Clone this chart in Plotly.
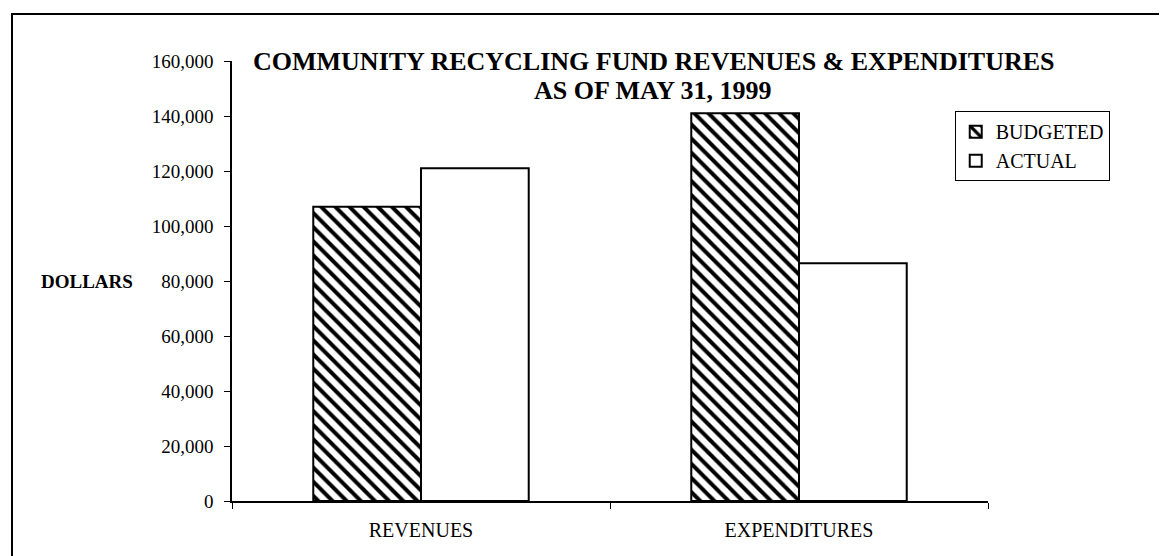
import plotly.graph_objects as go

categories = ["REVENUES", "EXPENDITURES"]
budgeted = [107000, 141000]
actual = [121000, 86500]
y_tick_values = [0, 20000, 40000, 60000, 80000, 100000, 120000, 140000, 160000]
y_tick_labels = ["0", "20,000", "40,000", "60,000", "80,000", "100,000", "120,000", "140,000", "160,000"]
series_names = ["BUDGETED", "ACTUAL"]
title_lines = ["COMMUNITY RECYCLING FUND REVENUES &amp; EXPENDITURES", "AS OF MAY 31, 1999"]
y_label = "DOLLARS"

FONT = "Liberation Serif"

fig = go.Figure()
fig.add_trace(go.Bar(
    x=categories, y=budgeted, name=series_names[0],
    marker=dict(color="white", line=dict(color="black", width=2),
                pattern=dict(shape="\\", fgcolor="black", bgcolor="white",
                             size=10, solidity=0.4, fgopacity=1)),
))
fig.add_trace(go.Bar(
    x=categories, y=actual, name=series_names[1],
    marker=dict(color="white", line=dict(color="black", width=2)),
))

fig.update_layout(
    width=1167, height=556,
    margin=dict(l=224, r=187, t=53, b=63),
    paper_bgcolor="white", plot_bgcolor="white",
    barmode="group", bargap=0.43, bargroupgap=0,
    font=dict(family=FONT, size=19, color="black"),
    showlegend=True,
    legend=dict(x=0.956, y=0.886, xanchor="left", yanchor="top",
                bordercolor="black", borderwidth=1, bgcolor="white",
                font=dict(family=FONT, size=20), itemwidth=30, tracegroupgap=0),
    xaxis=dict(showline=True, linecolor="black", linewidth=1.5, ticks="outside",
               tickson="boundaries", ticklen=6, tickcolor="black", showgrid=False,
               ticklabelstandoff=10, tickfont=dict(family=FONT, size=20)),
    yaxis=dict(range=[0, 160000], showline=True, linecolor="black", linewidth=1.5,
               ticks="outside", ticklen=6, tickcolor="black", showgrid=False,
               zeroline=False, tickvals=y_tick_values, ticktext=y_tick_labels,
               ticklabelstandoff=7, tickfont=dict(family=FONT, size=19)),
)

# Title (two centred lines)
fig.add_annotation(text="<b>" + title_lines[0] + "</b>", xref="paper", yref="paper",
                   x=0.557, y=1.0, xanchor="center", yanchor="middle",
                   showarrow=False, font=dict(family=FONT, size=26))
fig.add_annotation(text="<b>" + title_lines[1] + "</b>", xref="paper", yref="paper",
                   x=0.557, y=0.933, xanchor="center", yanchor="middle",
                   showarrow=False, font=dict(family=FONT, size=26))

# Y-axis label (horizontal)
fig.add_annotation(text="<b>" + y_label + "</b>", xref="paper", yref="paper",
                   x=-0.128, y=0.5, xanchor="right", yanchor="middle",
                   showarrow=False, font=dict(family=FONT, size=19))

# Chart frame
fig.add_shape(type="rect", xref="paper", yref="paper",
              x0=-0.291, x1=1.2447, y0=-0.141, y1=1.107,
              line=dict(color="black", width=2))

fig.write_html("out.html")
